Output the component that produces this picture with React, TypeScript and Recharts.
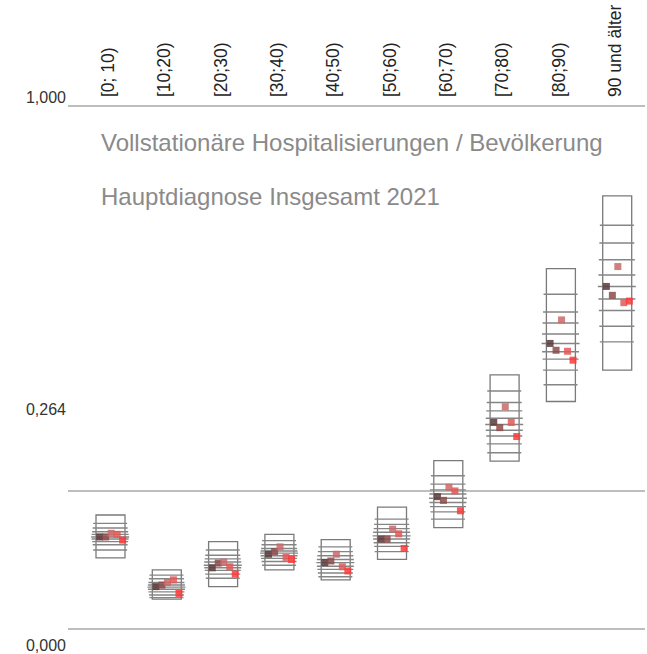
import { Bar, CartesianGrid, ComposedChart, Scatter, XAxis, YAxis } from 'recharts';

const categories = ['[0; 10)', '[10;20)', '[20;30)', '[30;40)', '[40;50)', '[50;60)', '[60;70)', '[70;80)', '[80;90)', '90 und älter'];

// Rahmen je Altersgruppe (unten / oben)
const boxLow = [0.136, 0.057, 0.081, 0.113, 0.094, 0.133, 0.194, 0.321, 0.435, 0.495];
const boxHigh = [0.218, 0.113, 0.167, 0.181, 0.171, 0.233, 0.322, 0.486, 0.689, 0.828];

// horizontale Striche im Rahmen, von oben nach unten
const bandLines = [
  [0.202, 0.193, 0.186, 0.181, 0.176, 0.172, 0.167, 0.161, 0.151],
  [0.103, 0.096, 0.089, 0.084, 0.080, 0.076, 0.071, 0.065, 0.060],
  [0.151, 0.141, 0.134, 0.128, 0.122, 0.117, 0.112, 0.105, 0.097],
  [0.169, 0.161, 0.154, 0.149, 0.145, 0.140, 0.135, 0.129, 0.122],
  [0.157, 0.148, 0.140, 0.133, 0.127, 0.120, 0.114, 0.107, 0.100],
  [0.210, 0.200, 0.192, 0.185, 0.178, 0.172, 0.165, 0.158, 0.148],
  [0.293, 0.277, 0.266, 0.258, 0.250, 0.242, 0.234, 0.224, 0.210],
  [0.455, 0.433, 0.417, 0.403, 0.391, 0.380, 0.369, 0.354, 0.337],
  [0.640, 0.606, 0.585, 0.564, 0.546, 0.530, 0.516, 0.495, 0.467],
  [0.772, 0.738, 0.706, 0.677, 0.655, 0.631, 0.609, 0.579, 0.549],
];

// die fünf farbigen Quadrate je Gruppe
const marks1 = [0.176, 0.081, 0.117, 0.143, 0.127, 0.172, 0.253, 0.395, 0.546, 0.655];
const marks2 = [0.176, 0.084, 0.126, 0.148, 0.130, 0.172, 0.246, 0.385, 0.533, 0.638];
const marks3 = [0.183, 0.089, 0.128, 0.157, 0.143, 0.191, 0.271, 0.425, 0.591, 0.693];
const marks4 = [0.181, 0.094, 0.119, 0.137, 0.119, 0.182, 0.264, 0.395, 0.531, 0.624];
const marks5 = [0.170, 0.068, 0.105, 0.133, 0.111, 0.154, 0.226, 0.368, 0.514, 0.627];

const yTicks = [0, 0.264, 1];

const markSeries = [marks1, marks2, marks3, marks4, marks5];
const markColors = ['#5a3838', '#8c4b4b', '#c96868', '#e25858', '#fa3a3a'];
const markOffsets = [-10.5, -4.5, 1, 7, 12.5];
const lineWidths = [34, 35, 36, 37, 38, 37, 36, 35, 34];

const data = categories.map((cat, i) => {
  const row: Record<string, unknown> = { cat, box: [boxLow[i], boxHigh[i]] };
  bandLines[i].forEach((v, j) => (row[`q${j}`] = v));
  markSeries.forEach((s, j) => (row[`m${j}`] = s[i]));
  return row;
});

// Beschriftungen sitzen im Original nicht auf der Linie
const yLabelShift: Record<string, number> = { '0': 16, '0.264': -82, '1': -9 };

const font = "'Liberation Sans', Arial, sans-serif";

function YTick({ y, payload }: any) {
  const dy = yLabelShift[String(payload.value)] ?? 0;
  return (
    <text x={66} y={y + dy} dy="0.35em" textAnchor="end" fontSize={16} fill="#333" fontFamily={font}>
      {payload.value.toFixed(3).replace('.', ',')}
    </text>
  );
}

function XTick({ x, payload }: any) {
  return (
    <text
      transform={`translate(${x + 4},97) rotate(-90)`}
      textAnchor="start"
      fontSize={17.5}
      fill="#222"
      fontFamily={font}
    >
      {payload.value}
    </text>
  );
}

export default function App() {
  return (
    <div style={{ position: 'absolute', left: 0, top: 0, width: 647, height: 654 }}>
      <ComposedChart width={647} height={654} data={data} margin={{ top: 0, right: 2, bottom: 25, left: 0 }}>
        <CartesianGrid vertical={false} stroke="#a8a8a8" strokeWidth={1.5} />
        <XAxis
          dataKey="cat"
          orientation="top"
          height={106}
          padding={{ left: 14, right: 0 }}
          axisLine={false}
          tickLine={false}
          interval={0}
          tick={<XTick />}
        />
        <YAxis
          type="number"
          domain={[0, 1]}
          ticks={yTicks}
          width={68}
          axisLine={false}
          tickLine={false}
          tick={<YTick />}
        />
        <Bar dataKey="box" barSize={29} fill="none" stroke="#7a7a7a" strokeWidth={1.3} isAnimationActive={false} />
        {lineWidths.map((w, j) => (
          <Scatter
            key={`q${j}`}
            dataKey={`q${j}`}
            isAnimationActive={false}
            shape={(p: any) => (
              <line x1={p.cx - w / 2} x2={p.cx + w / 2} y1={p.cy} y2={p.cy} stroke="#858585" strokeWidth={1.4} />
            )}
          />
        ))}
        {markColors.map((c, j) => (
          <Scatter
            key={`m${j}`}
            dataKey={`m${j}`}
            isAnimationActive={false}
            shape={(p: any) => (
              <rect x={p.cx + markOffsets[j] - 3.5} y={p.cy - 3.5} width={7} height={7} fill={c} fillOpacity={0.85} />
            )}
          />
        ))}
      </ComposedChart>
      <div style={{ position: 'absolute', left: 101, top: 131, fontFamily: font, fontSize: 24, lineHeight: '24px', color: '#8a8a8a', whiteSpace: 'nowrap' }}>
        Vollstationäre Hospitalisierungen / Bevölkerung
      </div>
      <div style={{ position: 'absolute', left: 101, top: 185, fontFamily: font, fontSize: 24, lineHeight: '24px', color: '#8a8a8a', whiteSpace: 'nowrap' }}>
        Hauptdiagnose Insgesamt 2021
      </div>
    </div>
  );
}
